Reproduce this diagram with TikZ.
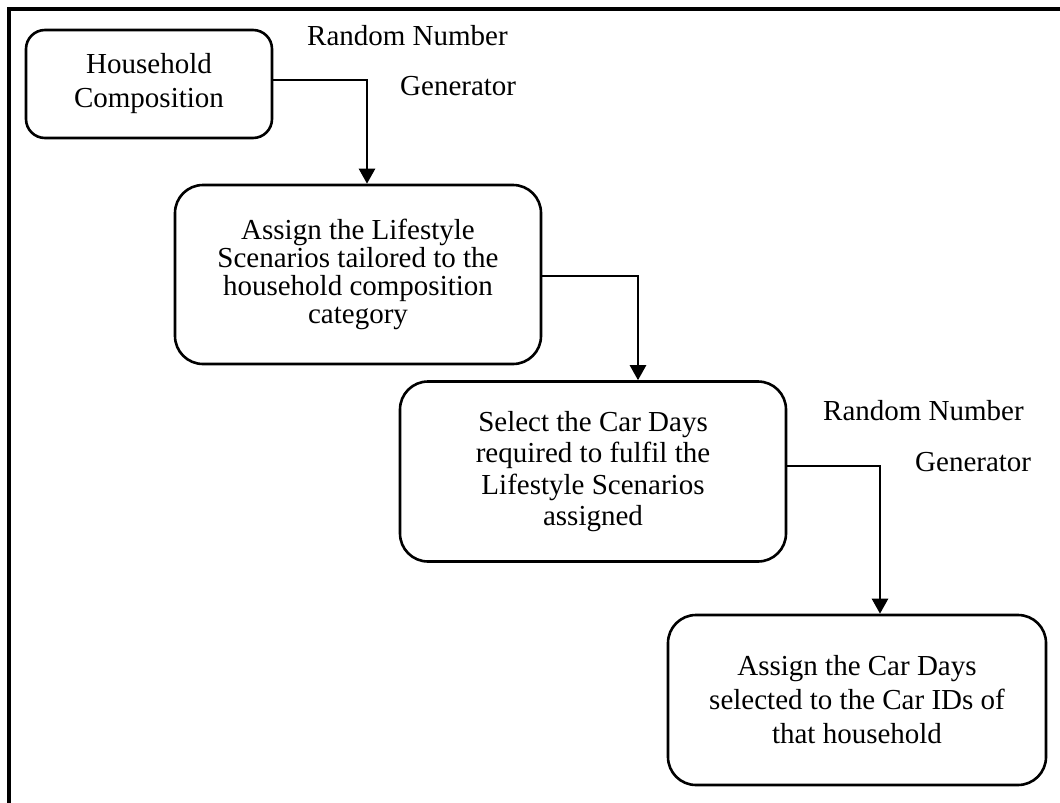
\documentclass[tikz,border=0pt]{standalone}
\usepackage{fontspec}
\setmainfont{Liberation Serif}
\usetikzlibrary{arrows.meta}

\tikzset{
  stepbox/.style={draw, line width=2.6pt, align=center, inner sep=0pt,
    font=\fontsize{29pt}{34pt}\selectfont},
  flow/.style={line width=2.5pt, -{Triangle[width=16pt,length=15pt]}},
  rnglabel/.style={anchor=base west, inner sep=0pt, font=\fontsize{29pt}{34pt}\selectfont},
  frameline/.style={line width=3.3pt}
}

\begin{document}
\begin{tikzpicture}[x=1pt, y=-1pt]
\useasboundingbox (0,0) rectangle (1060,803);

% outer frame (top and left edges)
\draw[frameline] (1060,9) -- (9,9) -- (9,803);

% process steps
\node[stepbox, minimum width=246pt, minimum height=108pt, rounded corners=19pt]
  (b1) at (149,84) {Household\\Composition};
\node[stepbox, minimum width=366pt, minimum height=179pt, rounded corners=28pt,
  font=\fontsize{29pt}{28pt}\selectfont]
  (b2) at (358,274.5) {Assign the Lifestyle\\Scenarios tailored to the\\household composition\\category};
\node[stepbox, minimum width=386pt, minimum height=180pt, rounded corners=28pt,
  font=\fontsize{29pt}{31.5pt}\selectfont]
  (b3) at (593,471.5) {Select the Car Days\\required to fulfil the\\Lifestyle Scenarios\\assigned};
\node[stepbox, minimum width=378pt, minimum height=170pt, rounded corners=28pt]
  (b4) at (857,700) {Assign the Car Days\\selected to the Car IDs of\\that household};

% random number generator labels
\node[rnglabel] (r1a) at (307,45) {Random Number};
\node[rnglabel] (r1b) at (400,95) {Generator};
\node[rnglabel] (r2a) at (823,420) {Random Number};
\node[rnglabel] (r2b) at (915,471) {Generator};

% connectors
\draw[flow] ([yshift=4pt]b1.east) -| ([xshift=9pt]b2.north);
\draw[flow] ([yshift=-1.5pt]b2.east) -| ([xshift=45pt]b3.north);
\draw[flow] ([yshift=5.5pt]b3.east) -| ([xshift=23pt]b4.north);
\end{tikzpicture}
\end{document}
